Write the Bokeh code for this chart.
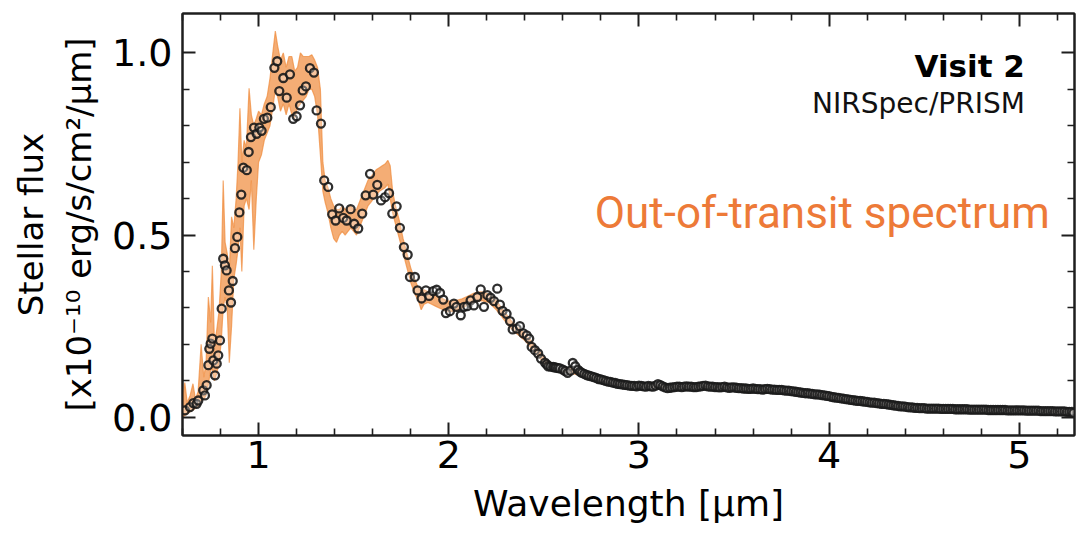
from bokeh.plotting import figure
from bokeh.models import Range1d, FixedTicker, PrintfTickFormatter, LinearAxis, Label, ColumnDataSource
from bokeh.embed import file_html
from bokeh.resources import INLINE

# Observed stellar spectrum (wavelength in micron, flux in 1e-10 erg/s/cm2/micron)
wavelength = [
    0.613, 0.639, 0.657, 0.674, 0.683, 0.709, 0.718, 0.727, 0.736, 0.741,
    0.748, 0.757, 0.762, 0.771, 0.780, 0.788, 0.797, 0.806, 0.814, 0.823,
    0.832, 0.844, 0.855, 0.864, 0.876, 0.888, 0.899, 0.909, 0.920, 0.938,
    0.948, 0.960, 0.976, 0.990, 1.004, 1.016, 1.028, 1.046, 1.064, 1.083,
    1.098, 1.109, 1.130, 1.148, 1.165, 1.182, 1.200, 1.218, 1.232, 1.249,
    1.270, 1.291, 1.305, 1.328, 1.345, 1.366, 1.387, 1.405, 1.424, 1.445,
    1.463, 1.484, 1.503, 1.524, 1.545, 1.563, 1.586, 1.603, 1.624, 1.644,
    1.665, 1.686, 1.703, 1.726, 1.743, 1.764, 1.784, 1.796, 1.822, 1.836,
    1.857, 1.880, 1.897, 1.918, 1.936, 1.954, 1.971, 1.985, 2.006, 2.027,
    2.041, 2.063, 2.080, 2.097, 2.115, 2.132, 2.150, 2.168, 2.185, 2.203,
    2.220, 2.238, 2.255, 2.269, 2.283, 2.304, 2.322, 2.336, 2.357, 2.374,
    2.392, 2.410, 2.423, 2.436, 2.453, 2.470, 2.485, 2.506, 2.515, 2.523,
    2.535, 2.549, 2.557, 2.565, 2.575, 2.585, 2.600, 2.612, 2.625, 2.640,
    2.652, 2.665, 2.680, 2.690,
    2.7000, 2.7125, 2.7250, 2.7375, 2.7500, 2.7625, 2.7750, 2.7875, 2.8000, 2.8125,
    2.8250, 2.8375, 2.8500, 2.8625, 2.8750, 2.8875, 2.9000, 2.9125, 2.9250, 2.9375,
    2.9500, 2.9625, 2.9750, 2.9875, 3.0000, 3.0125, 3.0250, 3.0375, 3.0500, 3.0625,
    3.0750, 3.0875, 3.1000, 3.1125, 3.1250, 3.1375, 3.1500, 3.1625, 3.1750, 3.1875,
    3.2000, 3.2125, 3.2250, 3.2375, 3.2500, 3.2625, 3.2750, 3.2875, 3.3000, 3.3125,
    3.3250, 3.3375, 3.3500, 3.3625, 3.3750, 3.3875, 3.4000, 3.4125, 3.4250, 3.4375,
    3.4500, 3.4625, 3.4750, 3.4875, 3.5000, 3.5125, 3.5250, 3.5375, 3.5500, 3.5625,
    3.5750, 3.5875, 3.6000, 3.6125, 3.6250, 3.6375, 3.6500, 3.6625, 3.6750, 3.6875,
    3.7000, 3.7125, 3.7250, 3.7375, 3.7500, 3.7625, 3.7750, 3.7875, 3.8000, 3.8125,
    3.8250, 3.8375, 3.8500, 3.8625, 3.8750, 3.8875, 3.9000, 3.9125, 3.9250, 3.9375,
    3.9500, 3.9625, 3.9750, 3.9875, 4.0000, 4.0125, 4.0250, 4.0375, 4.0500, 4.0625,
    4.0750, 4.0875, 4.1000, 4.1125, 4.1250, 4.1375, 4.1500, 4.1625, 4.1750, 4.1875,
    4.2000, 4.2125, 4.2250, 4.2375, 4.2500, 4.2625, 4.2750, 4.2875, 4.3000, 4.3125,
    4.3250, 4.3375, 4.3500, 4.3625, 4.3750, 4.3875, 4.4000, 4.4125, 4.4250, 4.4375,
    4.4500, 4.4625, 4.4750, 4.4875, 4.5000, 4.5125, 4.5250, 4.5375, 4.5500, 4.5625,
    4.5750, 4.5875, 4.6000, 4.6125, 4.6250, 4.6375, 4.6500, 4.6625, 4.6750, 4.6875,
    4.7000, 4.7125, 4.7250, 4.7375, 4.7500, 4.7625, 4.7750, 4.7875, 4.8000, 4.8125,
    4.8250, 4.8375, 4.8500, 4.8625, 4.8750, 4.8875, 4.9000, 4.9125, 4.9250, 4.9375,
    4.9500, 4.9625, 4.9750, 4.9875, 5.0000, 5.0125, 5.0250, 5.0375, 5.0500, 5.0625,
    5.0750, 5.0875, 5.1000, 5.1125, 5.1250, 5.1375, 5.1500, 5.1625, 5.1750, 5.1875,
    5.2000, 5.2125, 5.2250, 5.2375, 5.2500, 5.2625, 5.2750, 5.2850,
]
flux = [
    0.019, 0.028, 0.039, 0.037, 0.046, 0.074, 0.060, 0.088, 0.143, 0.188,
    0.202, 0.216, 0.156, 0.115, 0.147, 0.170, 0.211, 0.298, 0.435, 0.417,
    0.403, 0.348, 0.315, 0.374, 0.464, 0.495, 0.562, 0.611, 0.685, 0.678,
    0.728, 0.769, 0.795, 0.778, 0.795, 0.786, 0.819, 0.822, 0.851, 0.959,
    0.977, 0.895, 0.931, 0.877, 0.941, 0.819, 0.826, 0.856, 0.897, 0.908,
    0.958, 0.946, 0.842, 0.806, 0.650, 0.632, 0.557, 0.540, 0.573, 0.547,
    0.540, 0.571, 0.531, 0.518, 0.559, 0.609, 0.668, 0.611, 0.638, 0.595,
    0.604, 0.615, 0.559, 0.579, 0.520, 0.467, 0.446, 0.385, 0.385, 0.348,
    0.326, 0.348, 0.333, 0.346, 0.350, 0.341, 0.323, 0.286, 0.291, 0.312,
    0.303, 0.280, 0.303, 0.305, 0.321, 0.307, 0.330, 0.351, 0.303, 0.335,
    0.328, 0.319, 0.353, 0.309, 0.292, 0.284, 0.264, 0.241, 0.243, 0.250,
    0.230, 0.225, 0.216, 0.193, 0.184, 0.175, 0.161, 0.150, 0.145, 0.140,
    0.139, 0.138, 0.137, 0.136, 0.135, 0.134, 0.131, 0.127, 0.122, 0.128,
    0.149, 0.140, 0.130, 0.125,
    0.122, 0.119, 0.116, 0.114, 0.112, 0.110, 0.108, 0.105, 0.104, 0.102,
    0.100, 0.098, 0.097, 0.095, 0.094, 0.092, 0.091, 0.090, 0.089, 0.088,
    0.087, 0.086, 0.086, 0.085, 0.087, 0.086, 0.085, 0.084, 0.086, 0.085,
    0.084, 0.087, 0.091, 0.088, 0.085, 0.082, 0.080, 0.081, 0.082, 0.083,
    0.084, 0.084, 0.083, 0.084, 0.085, 0.084, 0.084, 0.083, 0.083, 0.084,
    0.085, 0.086, 0.087, 0.085, 0.084, 0.084, 0.083, 0.083, 0.082, 0.083,
    0.084, 0.082, 0.081, 0.082, 0.082, 0.081, 0.080, 0.080, 0.079, 0.079,
    0.078, 0.078, 0.079, 0.078, 0.077, 0.077, 0.076, 0.077, 0.078, 0.077,
    0.076, 0.076, 0.075, 0.075, 0.075, 0.074, 0.073, 0.073, 0.072, 0.071,
    0.070, 0.069, 0.068, 0.067, 0.066, 0.066, 0.065, 0.064, 0.063, 0.063,
    0.062, 0.061, 0.060, 0.059, 0.058, 0.056, 0.055, 0.054, 0.053, 0.052,
    0.051, 0.050, 0.049, 0.048, 0.047, 0.046, 0.045, 0.045, 0.044, 0.043,
    0.042, 0.041, 0.040, 0.040, 0.039, 0.038, 0.037, 0.037, 0.036, 0.035,
    0.034, 0.033, 0.032, 0.031, 0.030, 0.030, 0.029, 0.028, 0.027, 0.027,
    0.026, 0.026, 0.025, 0.025, 0.025, 0.024, 0.024, 0.024, 0.024, 0.024,
    0.024, 0.023, 0.023, 0.023, 0.023, 0.023, 0.023, 0.022, 0.022, 0.022,
    0.022, 0.022, 0.022, 0.021, 0.021, 0.021, 0.021, 0.021, 0.021, 0.021,
    0.021, 0.020, 0.020, 0.020, 0.020, 0.020, 0.020, 0.020, 0.020, 0.019,
    0.019, 0.019, 0.019, 0.019, 0.019, 0.019, 0.019, 0.018, 0.018, 0.018,
    0.018, 0.018, 0.018, 0.017, 0.017, 0.017, 0.017, 0.017, 0.017, 0.016,
    0.016, 0.016, 0.016, 0.016, 0.015, 0.015, 0.015, 0.012,
]

# Spread of the fitted stellar model samples
model_wl = [
    0.600, 0.612, 0.625, 0.640, 0.655, 0.668, 0.682, 0.698, 0.712, 0.724,
    0.736, 0.748, 0.757, 0.768, 0.780, 0.792, 0.804, 0.814, 0.824, 0.835,
    0.846, 0.858, 0.870, 0.882, 0.892, 0.902, 0.912, 0.924, 0.936, 0.950,
    0.962, 0.975, 0.988, 1.000, 1.015, 1.030, 1.045, 1.060, 1.075, 1.088,
    1.100, 1.115, 1.130, 1.145, 1.160, 1.175, 1.190, 1.205, 1.220, 1.235,
    1.250, 1.265, 1.280, 1.295, 1.310, 1.325, 1.338, 1.350, 1.365, 1.380,
    1.395, 1.410, 1.425, 1.440, 1.455, 1.470, 1.485, 1.500, 1.515, 1.530,
    1.545, 1.560, 1.575, 1.590, 1.605, 1.620, 1.635, 1.650, 1.665, 1.680,
    1.692, 1.705, 1.720, 1.740, 1.760, 1.780, 1.800, 1.820, 1.840, 1.855,
    1.870, 1.890, 1.910, 1.930, 1.950, 1.970, 1.990, 2.010, 2.030, 2.050,
    2.070, 2.090, 2.110, 2.130, 2.150, 2.170, 2.190, 2.210, 2.230, 2.250,
    2.270, 2.290, 2.310, 2.330, 2.350, 2.370, 2.390, 2.410, 2.430, 2.450,
    2.470, 2.490, 2.510, 2.530, 2.560, 2.600, 2.650, 2.700, 2.800, 2.900,
    3.000, 3.200, 3.400, 3.600, 3.800, 4.000, 4.200, 4.400, 4.600, 4.800,
    5.000, 5.290,
]
model_lo = [
    0.000, 0.005, 0.010, 0.015, 0.020, 0.025, 0.030, 0.045, 0.050, 0.060,
    0.090, 0.130, 0.130, 0.100, 0.120, 0.150, 0.210, 0.300, 0.330, 0.300,
    0.150, 0.250, 0.380, 0.420, 0.460, 0.520, 0.400, 0.580, 0.600, 0.570,
    0.650, 0.460, 0.600, 0.700, 0.720, 0.760, 0.780, 0.800, 0.850, 0.900,
    0.880, 0.840, 0.860, 0.830, 0.860, 0.830, 0.820, 0.850, 0.860, 0.870,
    0.880, 0.900, 0.900, 0.880, 0.830, 0.720, 0.620, 0.590, 0.560, 0.520,
    0.490, 0.480, 0.500, 0.510, 0.500, 0.510, 0.520, 0.510, 0.500, 0.520,
    0.540, 0.560, 0.580, 0.590, 0.600, 0.610, 0.620, 0.625, 0.630, 0.640,
    0.600, 0.560, 0.530, 0.490, 0.450, 0.410, 0.370, 0.340, 0.320, 0.295,
    0.310, 0.315, 0.310, 0.305, 0.300, 0.295, 0.290, 0.290, 0.292, 0.295,
    0.300, 0.305, 0.310, 0.315, 0.318, 0.320, 0.318, 0.315, 0.305, 0.295,
    0.282, 0.268, 0.255, 0.242, 0.232, 0.224, 0.215, 0.205, 0.192, 0.180,
    0.168, 0.155, 0.145, 0.138, 0.132, 0.126, 0.120, 0.114, 0.098, 0.086,
    0.082, 0.080, 0.080, 0.074, 0.068, 0.054, 0.039, 0.027, 0.021, 0.018,
    0.016, 0.012,
]
model_hi = [
    0.045, 0.095, 0.040, 0.060, 0.092, 0.050, 0.070, 0.200, 0.110, 0.150,
    0.330, 0.260, 0.416, 0.200, 0.240, 0.290, 0.400, 0.650, 0.480, 0.450,
    0.400, 0.550, 0.520, 0.600, 0.700, 0.848, 0.700, 0.760, 0.740, 0.903,
    0.830, 0.800, 0.820, 0.840, 0.830, 0.860, 0.880, 0.930, 1.000, 1.060,
    1.020, 0.980, 1.000, 0.960, 0.990, 0.990, 0.950, 0.960, 1.000, 0.990,
    0.990, 0.990, 0.995, 0.980, 0.960, 0.900, 0.700, 0.650, 0.630, 0.600,
    0.580, 0.570, 0.570, 0.580, 0.570, 0.575, 0.580, 0.570, 0.570, 0.590,
    0.610, 0.630, 0.650, 0.660, 0.670, 0.680, 0.685, 0.690, 0.695, 0.705,
    0.690, 0.620, 0.580, 0.540, 0.490, 0.450, 0.410, 0.380, 0.355, 0.345,
    0.350, 0.345, 0.340, 0.335, 0.330, 0.325, 0.320, 0.318, 0.320, 0.322,
    0.325, 0.330, 0.335, 0.340, 0.343, 0.345, 0.342, 0.338, 0.330, 0.320,
    0.306, 0.292, 0.278, 0.264, 0.252, 0.244, 0.235, 0.225, 0.212, 0.198,
    0.185, 0.172, 0.160, 0.152, 0.145, 0.138, 0.132, 0.125, 0.108, 0.095,
    0.090, 0.088, 0.087, 0.081, 0.074, 0.060, 0.045, 0.032, 0.026, 0.023,
    0.021, 0.017,
]

x_ticks = [1, 2, 3, 4, 5]
x_minor_ticks = [0.6, 0.8, 1.2, 1.4, 1.6, 1.8, 2.2, 2.4, 2.6, 2.8, 3.2, 3.4,
                 3.6, 3.8, 4.2, 4.4, 4.6, 4.8, 5.2]
y_ticks = [0.0, 0.5, 1.0]
y_minor_ticks = [0.1, 0.2, 0.3, 0.4, 0.6, 0.7, 0.8, 0.9]

ink = "#1e1e1e"
orange = "#F08A3A"

p = figure(width=1077, height=541,
           x_range=Range1d(0.6, 5.29), y_range=Range1d(-0.05, 1.108),
           output_backend="svg", toolbar_location=None,
           min_border_left=182, min_border_right=3,
           min_border_top=13, min_border_bottom=106)
p.grid.visible = False
p.background_fill_color = "white"
p.border_fill_color = "white"
p.outline_line_color = ink
p.outline_line_width = 2

# Model envelope underneath the measurements
band = ColumnDataSource(dict(x=model_wl, lo=model_lo, hi=model_hi))
p.varea(x="x", y1="lo", y2="hi", source=band, fill_color=orange, fill_alpha=0.7)
p.line(x="x", y="lo", source=band, line_color=orange, line_alpha=0.7, line_width=1.2)
p.line(x="x", y="hi", source=band, line_color=orange, line_alpha=0.7, line_width=1.2)

obs = ColumnDataSource(dict(x=wavelength, y=flux))
p.scatter(x="x", y="y", source=obs, marker="circle", size=8,
          line_color="#1a1a1a", line_width=2.3, line_alpha=0.9,
          fill_color="white", fill_alpha=0.3)

def style_axis(ax, ticks, minor, show_labels):
    ax.ticker = FixedTicker(ticks=ticks, minor_ticks=minor)
    ax.axis_line_color = ink
    ax.axis_line_width = 2
    ax.major_tick_line_color = ink
    ax.major_tick_line_width = 2
    ax.minor_tick_line_color = ink
    ax.minor_tick_line_width = 1.6
    ax.major_tick_in = 13
    ax.major_tick_out = 0
    ax.minor_tick_in = 7
    ax.minor_tick_out = 0
    ax.major_label_text_font = "DejaVu Sans"
    ax.major_label_text_color = "black"
    ax.major_label_text_font_size = "38px"
    if not show_labels:
        ax.major_label_overrides = {t: "" for t in ticks}
        ax.major_label_standoff = 0

xa = p.xaxis[0]
style_axis(xa, x_ticks, x_minor_ticks, True)
xa.formatter = PrintfTickFormatter(format="%d")
xa.major_label_standoff = 5
xa.axis_label = "Wavelength [µm]"
xa.axis_label_text_font = "DejaVu Sans"
xa.axis_label_text_font_style = "normal"
xa.axis_label_text_color = "black"
xa.axis_label_text_font_size = "36px"
xa.axis_label_standoff = 12

ya = p.yaxis[0]
style_axis(ya, y_ticks, y_minor_ticks, True)
ya.formatter = PrintfTickFormatter(format="%.1f")
ya.major_label_standoff = 10
ya.axis_label = "Stellar flux\n[x10⁻¹⁰ erg/s/cm²/µm]"
ya.axis_label_text_font = "DejaVu Sans"
ya.axis_label_text_font_style = "normal"
ya.axis_label_text_color = "black"
ya.axis_label_text_font_size = "34px"
ya.axis_label_text_line_height = 1.2
ya.axis_label_standoff = 10

top = LinearAxis()
style_axis(top, x_ticks, x_minor_ticks, False)
p.add_layout(top, "above")
right = LinearAxis()
style_axis(right, y_ticks, y_minor_ticks, False)
p.add_layout(right, "right")

p.add_layout(Label(x=5.029, y=0.963, text="Visit 2", text_align="right",
                   text_baseline="middle", text_font="DejaVu Sans",
                   text_font_style="bold", text_font_size="31px", text_color="black"))
p.add_layout(Label(x=5.029, y=0.861, text="NIRSpec/PRISM", text_align="right",
                   text_baseline="middle", text_font="DejaVu Sans",
                   text_font_size="28px", text_color="#111111"))
p.add_layout(Label(x=5.16, y=0.560, text="Out-of-transit spectrum", text_align="right",
                   text_baseline="middle", text_font="Roboto",
                   text_font_size="44px", text_color="#ED7A38"))

open("out.html", "w").write(file_html(p, INLINE))
